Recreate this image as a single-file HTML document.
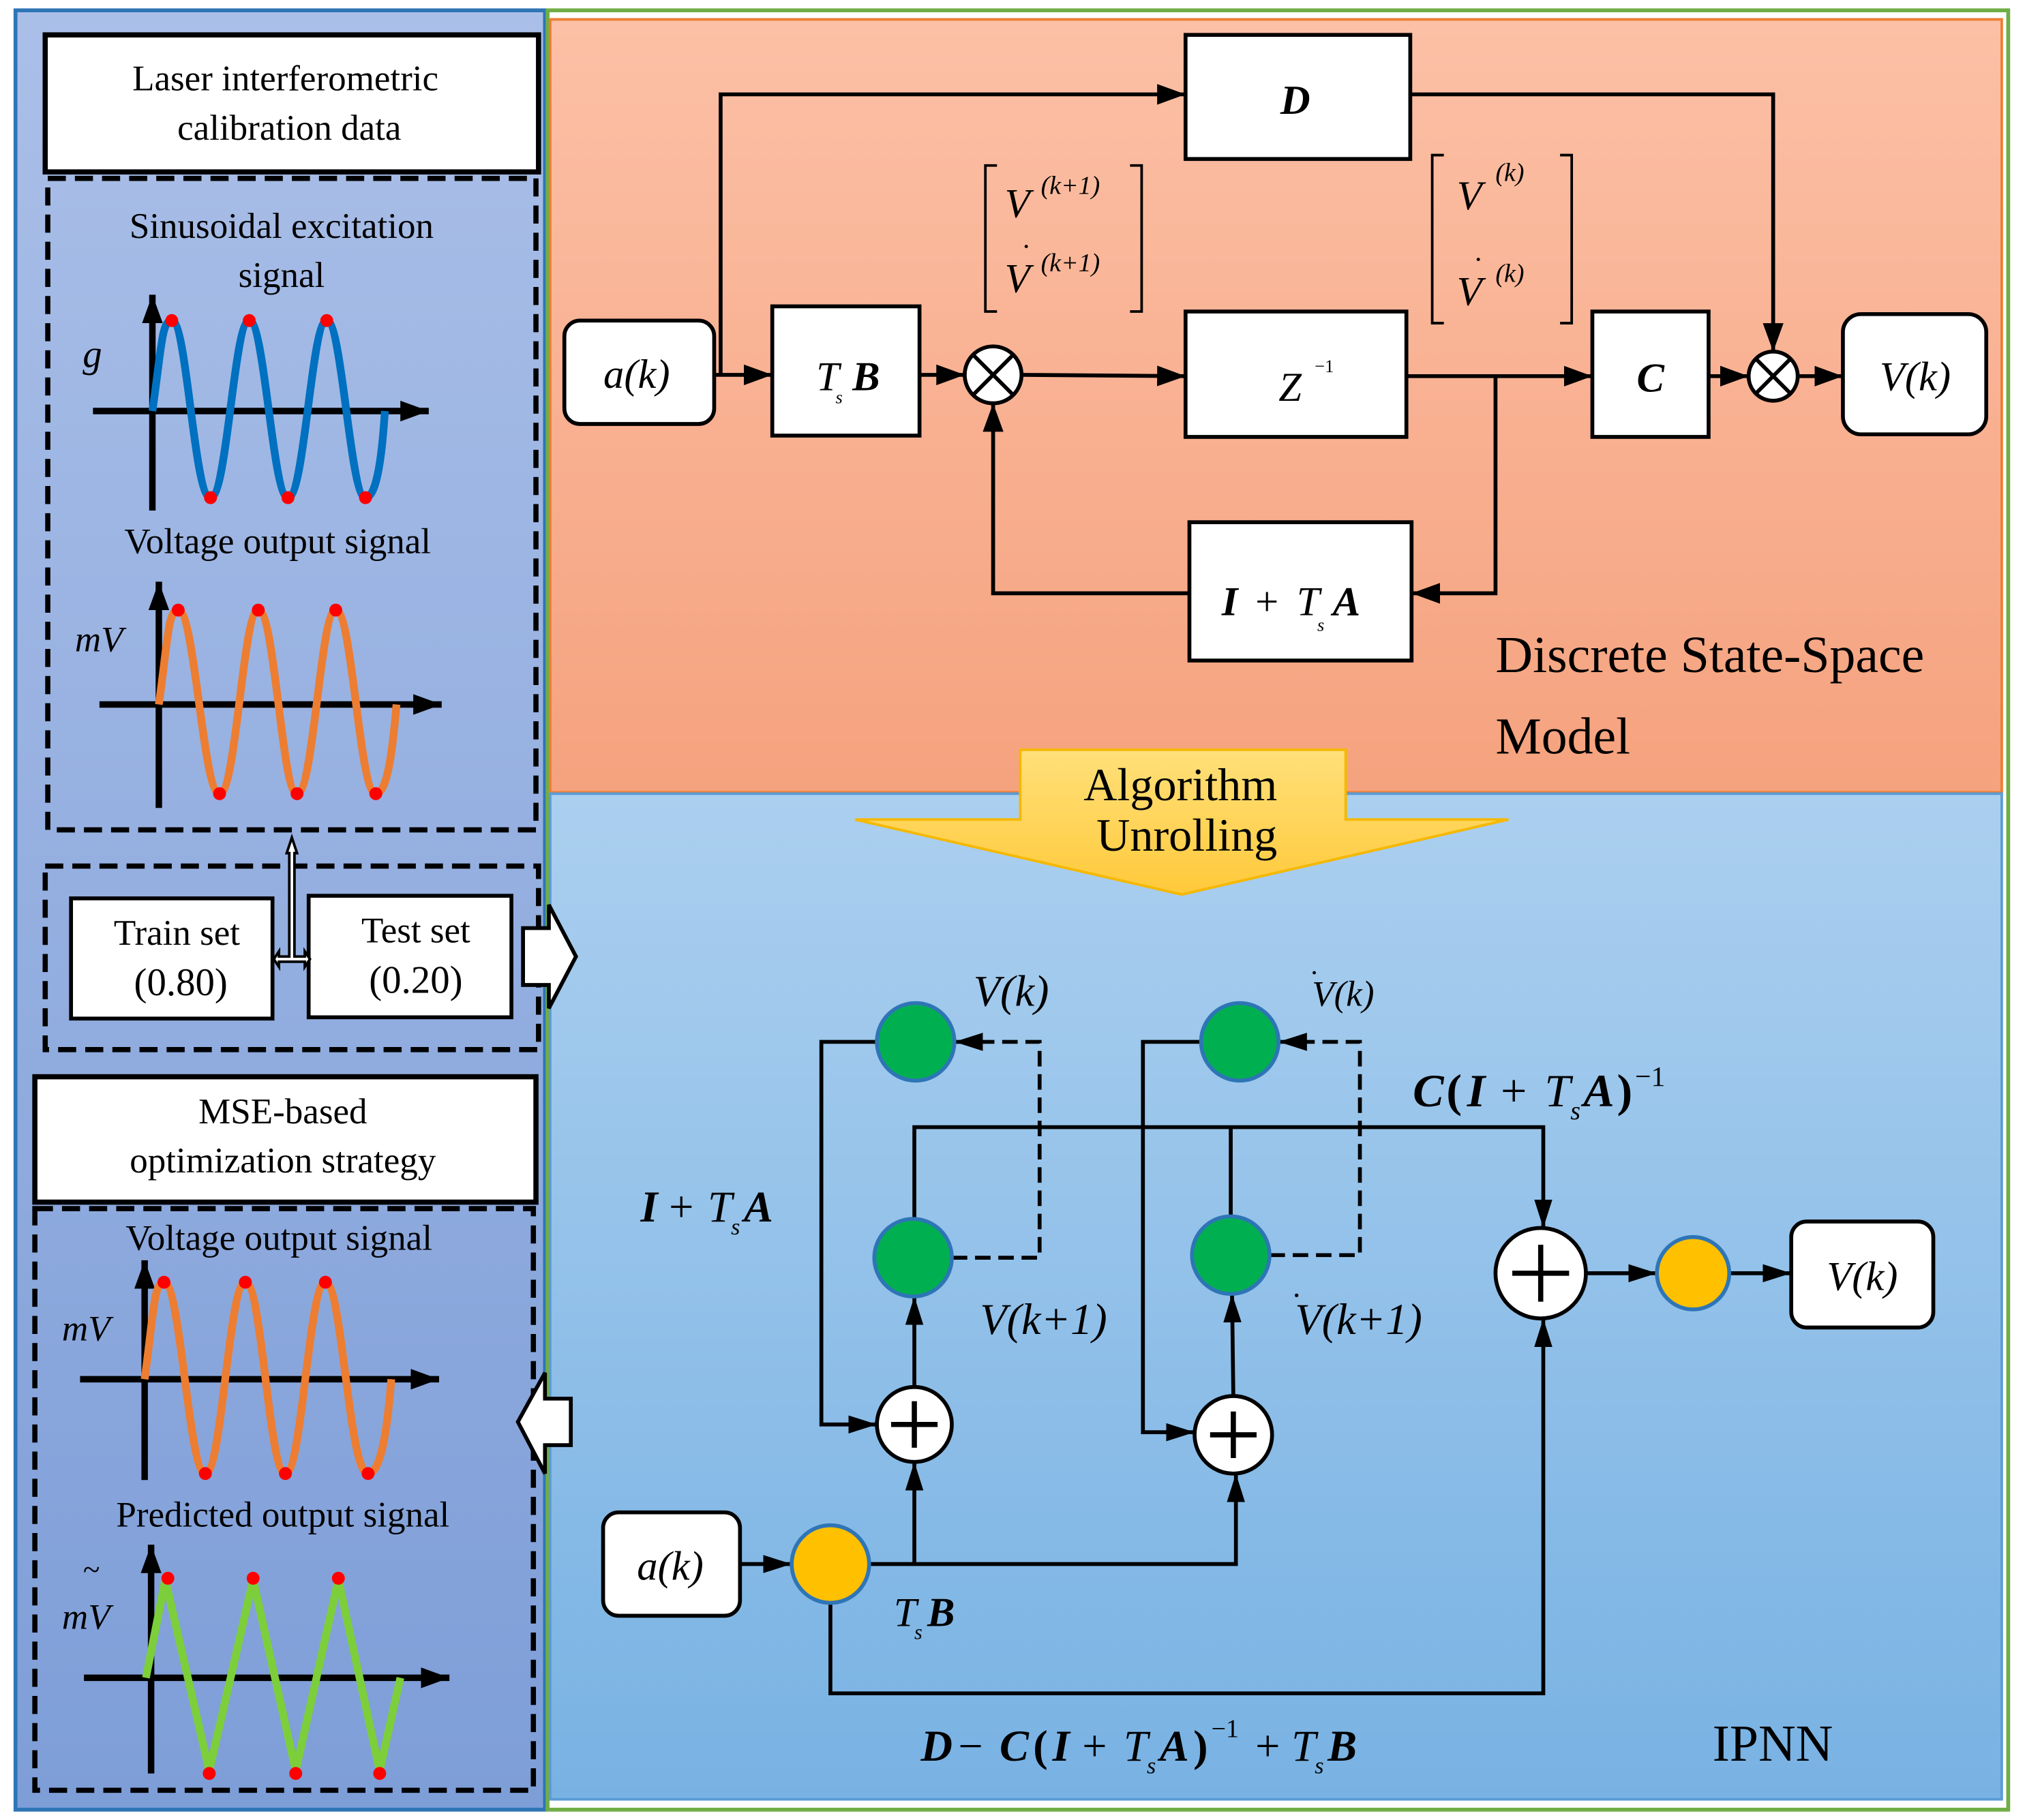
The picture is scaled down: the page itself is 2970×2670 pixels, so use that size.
<!DOCTYPE html>
<html><head><meta charset="utf-8"><style>
html,body{margin:0;padding:0;background:#fff}
svg{display:block}
text{font-family:"Liberation Serif",serif;fill:#000}
.it{font-style:italic}
.b{font-weight:bold;font-style:italic}
</style></head><body>
<svg width="2970" height="2670" viewBox="0 0 1568 1408" preserveAspectRatio="none" xmlns="http://www.w3.org/2000/svg">
<defs>
<linearGradient id="gl" x1="0" y1="0" x2="0" y2="1"><stop offset="0" stop-color="#aabfe8"/><stop offset="1" stop-color="#7e9ed8"/></linearGradient>
<linearGradient id="go" x1="0" y1="0" x2="0" y2="1"><stop offset="0" stop-color="#fcc0a6"/><stop offset="1" stop-color="#f5a27e"/></linearGradient>
<linearGradient id="gb" x1="0" y1="0" x2="0" y2="1"><stop offset="0" stop-color="#abcfef"/><stop offset="1" stop-color="#78b2e3"/></linearGradient>
<linearGradient id="gy" x1="0" y1="0" x2="0" y2="1"><stop offset="0" stop-color="#ffe07a"/><stop offset="1" stop-color="#ffc93a"/></linearGradient>
<marker id="a" markerUnits="userSpaceOnUse" markerWidth="24" markerHeight="20" refX="22" refY="10" orient="auto"><path d="M0,2 L22,10 L0,18 Z" fill="#000"/></marker>
<marker id="as" markerUnits="userSpaceOnUse" markerWidth="24" markerHeight="20" refX="22" refY="10" orient="auto"><path d="M0,3 L22,10 L0,17 Z" fill="#000"/></marker>
</defs>
<!-- panels -->
<rect x="12" y="8" width="410" height="1392" fill="url(#gl)" stroke="#2e75b6" stroke-width="3"/>
<rect x="424" y="8" width="1131" height="1392" fill="#fff" stroke="#70ad47" stroke-width="3"/>
<rect x="426" y="15" width="1124" height="598" fill="url(#go)" stroke="#ed7d31" stroke-width="2"/>
<rect x="426" y="614" width="1124" height="778" fill="url(#gb)" stroke="#5b9bd5" stroke-width="2"/>

<!-- left panel -->
<rect x="35" y="27" width="382" height="106" fill="#fff" stroke="#000" stroke-width="4"/>
<text x="221" y="70" font-size="28" text-anchor="middle">Laser interferometric</text>
<text x="224" y="108" font-size="28" text-anchor="middle">calibration data</text>
<rect x="37" y="138" width="378" height="504" fill="none" stroke="#000" stroke-width="4" stroke-dasharray="14,7"/>
<text x="218" y="184" font-size="28" text-anchor="middle">Sinusoidal excitation</text>
<text x="218" y="222" font-size="28" text-anchor="middle">signal</text>
<text x="64" y="284" font-size="30" class="it">g</text>
<line x1="118" y1="395" x2="118" y2="228" stroke="#000" stroke-width="5" marker-end="url(#a)"/>
<line x1="72" y1="318" x2="332" y2="318" stroke="#000" stroke-width="5" marker-end="url(#a)"/>
<path id="s1" d="M118,318 C125,270 125,248 133,248 C145,248 150,385 163,385 C176,385 181,248 193,248 C205,248 211,385 223,385 C236,385 241,248 253,248 C265,248 271,385 283,385 C292,385 296,350 298,318" fill="none" stroke="#0070c0" stroke-width="6"/>
<g fill="#f00"><circle cx="133" cy="248" r="5"/><circle cx="193" cy="248" r="5"/><circle cx="253" cy="248" r="5"/><circle cx="163" cy="385" r="5"/><circle cx="223" cy="385" r="5"/><circle cx="283" cy="385" r="5"/></g>
<text x="215" y="428" font-size="28" text-anchor="middle">Voltage output signal</text>
<text x="58" y="504" font-size="28" class="it">mV</text>
<line x1="123" y1="625" x2="123" y2="450" stroke="#000" stroke-width="5" marker-end="url(#a)"/>
<line x1="77" y1="545" x2="342" y2="545" stroke="#000" stroke-width="5" marker-end="url(#a)"/>
<path d="M123,545 C130,495 130,472 138,472 C151,472 157,614 170,614 C183,614 188,472 200,472 C213,472 218,614 230,614 C243,614 248,472 260,472 C273,472 278,614 291,614 C300,614 304,580 307,545" fill="none" stroke="#ed7d31" stroke-width="6"/>
<g fill="#f00"><circle cx="138" cy="472" r="5"/><circle cx="200" cy="472" r="5"/><circle cx="260" cy="472" r="5"/><circle cx="170" cy="614" r="5"/><circle cx="230" cy="614" r="5"/><circle cx="291" cy="614" r="5"/></g>

<rect x="35" y="670" width="382" height="142" fill="none" stroke="#000" stroke-width="4" stroke-dasharray="14,7"/>
<rect x="55" y="695" width="156" height="93" fill="#fff" stroke="#000" stroke-width="3"/>
<text x="137" y="731" font-size="28" text-anchor="middle">Train set</text>
<text x="140" y="770" font-size="30" text-anchor="middle">(0.80)</text>
<rect x="239" y="693" width="157" height="94" fill="#fff" stroke="#000" stroke-width="3"/>
<text x="322" y="729" font-size="28" text-anchor="middle">Test set</text>
<text x="322" y="768" font-size="30" text-anchor="middle">(0.20)</text>
<path d="M222,660 L226,648 L230,660 L228,660 L228,740 L236,740 L236,736 L240,742 L236,748 L236,744 L216,744 L216,748 L212,742 L216,736 L216,740 L224,740 L224,660 Z" fill="#fff" stroke="#000" stroke-width="2"/>
<path d="M405,718 L425,718 L425,700 L446,740 L425,780 L425,762 L405,762 Z" fill="#fff" stroke="#000" stroke-width="3"/>

<rect x="27" y="833" width="388" height="97" fill="#fff" stroke="#000" stroke-width="4"/>
<text x="219" y="869" font-size="28" text-anchor="middle">MSE-based</text>
<text x="219" y="907" font-size="28" text-anchor="middle">optimization strategy</text>
<rect x="27" y="935" width="386" height="450" fill="none" stroke="#000" stroke-width="4" stroke-dasharray="14,7"/>
<text x="216" y="967" font-size="28" text-anchor="middle">Voltage output signal</text>
<text x="48" y="1037" font-size="28" class="it">mV</text>
<line x1="112" y1="1145" x2="112" y2="975" stroke="#000" stroke-width="5" marker-end="url(#a)"/>
<line x1="62" y1="1067" x2="340" y2="1067" stroke="#000" stroke-width="5" marker-end="url(#a)"/>
<path d="M112,1067 C119,1016 119,992 127,992 C140,992 146,1140 159,1140 C172,1140 177,992 190,992 C203,992 208,1140 221,1140 C234,1140 239,992 252,992 C265,992 270,1140 285,1140 C295,1140 300,1105 303,1067" fill="none" stroke="#ed7d31" stroke-width="6"/>
<g fill="#f00"><circle cx="127" cy="992" r="5"/><circle cx="190" cy="992" r="5"/><circle cx="252" cy="992" r="5"/><circle cx="159" cy="1140" r="5"/><circle cx="221" cy="1140" r="5"/><circle cx="285" cy="1140" r="5"/></g>
<text x="219" y="1181" font-size="28" text-anchor="middle">Predicted output signal</text>
<text x="64" y="1222" font-size="24" class="it">~</text>
<text x="48" y="1260" font-size="28" class="it">mV</text>
<line x1="117" y1="1372" x2="117" y2="1195" stroke="#000" stroke-width="5" marker-end="url(#a)"/>
<line x1="65" y1="1298" x2="348" y2="1298" stroke="#000" stroke-width="5" marker-end="url(#a)"/>
<path d="M113,1298 L128,1222 L162,1370 L196,1222 L229,1370 L262,1222 L294,1370 L310,1298" fill="none" stroke="#7ccf3a" stroke-width="6"/>
<g fill="#f00"><circle cx="130" cy="1221" r="5"/><circle cx="196" cy="1221" r="5"/><circle cx="262" cy="1221" r="5"/><circle cx="162" cy="1372" r="5"/><circle cx="229" cy="1372" r="5"/><circle cx="294" cy="1372" r="5"/></g>
<path d="M442,1082 L422,1082 L422,1062 L401,1100 L422,1140 L422,1118 L442,1118 Z" fill="#fff" stroke="#000" stroke-width="3"/>

<!-- top diagram -->
<g stroke="#000" stroke-width="3" fill="none">
<line x1="553" y1="290" x2="598" y2="290" marker-end="url(#a)"/>
<polyline points="558,290 558,73 918,73" marker-end="url(#a)"/>
<polyline points="1092,73 1373,73 1373,272" marker-end="url(#a)"/>
<line x1="712" y1="290" x2="747" y2="290" marker-end="url(#a)"/>
<line x1="791" y1="290" x2="918" y2="291" marker-end="url(#a)"/>
<line x1="1089" y1="291" x2="1233" y2="291" marker-end="url(#a)"/>
<polyline points="1158,291 1158,459 1093,459" marker-end="url(#a)"/>
<polyline points="921,459 769,459 769,312" marker-end="url(#a)"/>
<line x1="1323" y1="291" x2="1354" y2="291" marker-end="url(#a)"/>
<line x1="1392" y1="291" x2="1427" y2="291" marker-end="url(#a)"/>
</g>
<rect x="437" y="248" width="116" height="80" rx="12" fill="#fff" stroke="#000" stroke-width="3"/>
<text x="493" y="300" font-size="32" text-anchor="middle" class="it">a(k)</text>
<rect x="598" y="237" width="114" height="100" fill="#fff" stroke="#000" stroke-width="3"/>
<text x="632" y="302" font-size="32" class="it">T</text><text x="647" y="312" font-size="14" class="it">s</text><text x="660" y="302" font-size="32" class="b">B</text>
<rect x="918" y="241" width="171" height="97" fill="#fff" stroke="#000" stroke-width="3"/>
<text x="990" y="310" font-size="32" class="it">Z</text><text x="1018" y="288" font-size="14">−1</text>
<rect x="1233" y="241" width="90" height="97" fill="#fff" stroke="#000" stroke-width="3"/>
<text x="1278" y="303" font-size="32" text-anchor="middle" class="b">C</text>
<rect x="1427" y="243" width="111" height="93" rx="14" fill="#fff" stroke="#000" stroke-width="3"/>
<text x="1483" y="302" font-size="32" text-anchor="middle" class="it">V(k)</text>
<rect x="918" y="27" width="174" height="96" fill="#fff" stroke="#000" stroke-width="3"/>
<text x="1003" y="88" font-size="32" text-anchor="middle" class="b">D</text>
<rect x="921" y="404" width="172" height="107" fill="#fff" stroke="#000" stroke-width="3"/>
<text x="946" y="476" font-size="32" class="b">I</text><text x="972" y="476" font-size="32">+</text><text x="1004" y="476" font-size="32" class="it">T</text><text x="1020" y="488" font-size="14" class="it">s</text><text x="1032" y="476" font-size="32" class="b">A</text>
<g stroke="#000" stroke-width="3" fill="#fff">
<circle cx="769" cy="290" r="22"/><circle cx="1373" cy="291" r="19"/>
</g>
<g stroke="#000" stroke-width="3">
<line x1="753" y1="274" x2="785" y2="306"/><line x1="785" y1="274" x2="753" y2="306"/>
<line x1="1360" y1="278" x2="1386" y2="304"/><line x1="1386" y1="278" x2="1360" y2="304"/>
</g>
<g stroke="#000" stroke-width="2" fill="none">
<polyline points="772,128 763,128 763,241 772,241"/><polyline points="875,128 884,128 884,241 875,241"/>
<polyline points="1118,120 1109,120 1109,250 1118,250"/><polyline points="1208,120 1217,120 1217,250 1208,250"/>
</g>
<text x="778" y="168" font-size="32" class="it">V</text><text x="806" y="150" font-size="20" class="it">(k+1)</text>
<text x="778" y="226" font-size="32" class="it">V</text><text x="791" y="198" font-size="22">·</text><text x="806" y="210" font-size="20" class="it">(k+1)</text>
<text x="1128" y="162" font-size="32" class="it">V</text><text x="1158" y="140" font-size="20" class="it">(k)</text>
<text x="1128" y="236" font-size="32" class="it">V</text><text x="1141" y="208" font-size="22">·</text><text x="1158" y="218" font-size="20" class="it">(k)</text>
<text x="1158" y="520" font-size="40">Discrete State-Space</text>
<text x="1158" y="583" font-size="40">Model</text>

<!-- algorithm unrolling -->
<polygon points="790,580 1042,580 1042,634 1168,634 915,692 662,634 790,634" fill="url(#gy)" stroke="#f5b800" stroke-width="2"/>
<text x="914" y="619" font-size="36" text-anchor="middle">Algorithm</text>
<text x="919" y="658" font-size="36" text-anchor="middle">Unrolling</text>

<!-- bottom diagram lines -->
<g stroke="#000" stroke-width="3" fill="none">
<line x1="573" y1="1210" x2="613" y2="1210" marker-end="url(#as)"/>
<polyline points="673,1210 957,1210 957,1140" marker-end="url(#as)"/>
<line x1="708" y1="1210" x2="708" y2="1131" marker-end="url(#as)"/>
<polyline points="643,1240 643,1310 1195,1310 1195,1020" marker-end="url(#as)"/>
<line x1="708" y1="1073" x2="708" y2="1003" marker-end="url(#as)"/>
<line x1="955" y1="1080" x2="954" y2="1001" marker-end="url(#as)"/>
<polyline points="708,943 708,872 1195,872 1195,950" marker-end="url(#as)"/>
<line x1="953" y1="941" x2="953" y2="872"/>
<polyline points="679,806 636,806 636,1102 679,1102" marker-end="url(#as)"/>
<polyline points="930,806 885,806 885,1108 925,1108" marker-end="url(#as)"/>
<line x1="1228" y1="985" x2="1283" y2="985" marker-end="url(#as)"/>
<line x1="1339" y1="985" x2="1387" y2="985" marker-end="url(#as)"/>
<polyline points="737,973 805,973 805,806 739,806" stroke-dasharray="12,6" marker-end="url(#as)"/>
<polyline points="983,971 1053,971 1053,806 990,806" stroke-dasharray="12,6" marker-end="url(#as)"/>
</g>
<g stroke="#2e75b6" stroke-width="3" fill="#00b050">
<circle cx="709" cy="806" r="30"/><circle cx="960" cy="806" r="30"/><circle cx="707" cy="973" r="30"/><circle cx="953" cy="971" r="30"/>
</g>
<g stroke="#2e75b6" stroke-width="3" fill="#ffc000">
<circle cx="643" cy="1210" r="30"/><circle cx="1311" cy="985" r="28"/>
</g>
<g stroke="#000" stroke-width="3" fill="#fff">
<circle cx="708" cy="1102" r="29"/><circle cx="955" cy="1110" r="30"/><circle cx="1193" cy="985" r="35"/>
</g>
<g stroke="#000" stroke-width="4">
<line x1="690" y1="1102" x2="726" y2="1102"/><line x1="708" y1="1084" x2="708" y2="1120"/>
<line x1="937" y1="1110" x2="973" y2="1110"/><line x1="955" y1="1092" x2="955" y2="1128"/>
<line x1="1171" y1="985" x2="1215" y2="985"/><line x1="1193" y1="963" x2="1193" y2="1007"/>
</g>
<rect x="467" y="1170" width="106" height="80" rx="12" fill="#fff" stroke="#000" stroke-width="3"/>
<text x="519" y="1222" font-size="32" text-anchor="middle" class="it">a(k)</text>
<rect x="1387" y="945" width="110" height="82" rx="12" fill="#fff" stroke="#000" stroke-width="3"/>
<text x="1442" y="998" font-size="32" text-anchor="middle" class="it">V(k)</text>
<text x="783" y="778" font-size="34" text-anchor="middle" class="it">V(k)</text>
<text x="1040" y="778" font-size="28" text-anchor="middle" class="it">V(k)</text><text x="1014" y="760" font-size="22">·</text>
<text x="1094" y="856" font-size="36" class="b">C</text><text x="1120" y="856" font-size="36" font-weight="bold">(</text><text x="1136" y="856" font-size="36" class="b">I</text><text x="1162" y="856" font-size="36">+</text><text x="1196" y="856" font-size="36" class="it">T</text><text x="1216" y="866" font-size="20" class="it">s</text><text x="1226" y="856" font-size="36" class="b">A</text><text x="1252" y="856" font-size="36" font-weight="bold">)</text><text x="1266" y="840" font-size="22">−1</text>
<text x="496" y="945" font-size="34" class="b">I</text><text x="518" y="945" font-size="34">+</text><text x="548" y="945" font-size="34" class="it">T</text><text x="566" y="955" font-size="18" class="it">s</text><text x="576" y="945" font-size="34" class="b">A</text>
<text x="808" y="1032" font-size="34" text-anchor="middle" class="it">V(k+1)</text>
<text x="1052" y="1032" font-size="34" text-anchor="middle" class="it">V(k+1)</text><text x="1000" y="1010" font-size="24">·</text>
<text x="692" y="1258" font-size="32" class="it">T</text><text x="708" y="1268" font-size="16" class="it">s</text><text x="718" y="1258" font-size="32" class="b">B</text>
<text x="713" y="1362" font-size="34" class="b">D</text><text x="742" y="1362" font-size="34">−</text><text x="774" y="1362" font-size="34" class="b">C</text><text x="800" y="1362" font-size="34" font-weight="bold">(</text><text x="815" y="1362" font-size="34" class="b">I</text><text x="838" y="1362" font-size="34">+</text><text x="870" y="1362" font-size="34" class="it">T</text><text x="888" y="1372" font-size="18" class="it">s</text><text x="898" y="1362" font-size="34" class="b">A</text><text x="924" y="1362" font-size="34" font-weight="bold">)</text><text x="938" y="1344" font-size="20">−1</text><text x="972" y="1362" font-size="34">+</text><text x="1000" y="1362" font-size="34" class="it">T</text><text x="1018" y="1372" font-size="18" class="it">s</text><text x="1028" y="1362" font-size="34" class="b">B</text>
<text x="1326" y="1362" font-size="40">IPNN</text>
</svg>
</body></html>
